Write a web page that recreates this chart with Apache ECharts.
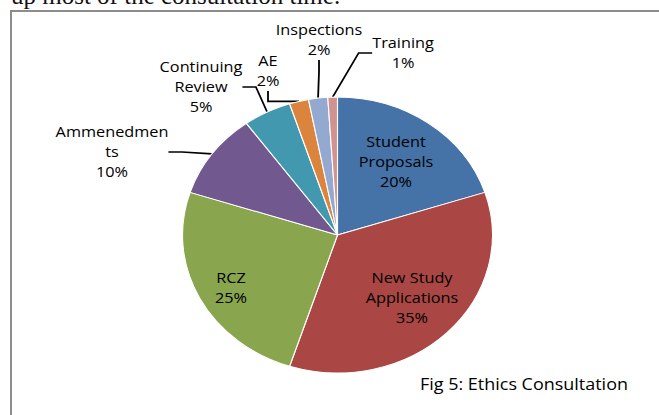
<!DOCTYPE html>
<html lang="en">
<head>
    <meta charset="UTF-8"/>
    <title>Fig 5: Ethics Consultation</title>
    <script src="https://cdn.jsdelivr.net/npm/echarts@6/dist/echarts.min.js"></script>
    <style>
        html, body { margin: 0; padding: 0; background: #fff; overflow: hidden; }
        body { width: 659px; height: 415px; position: relative; }
        /* line of document text cut off above the figure */
        .doc-text {
            position: absolute; left: 11px; top: -17px;
            font-family: 'Liberation Serif', serif; font-size: 25px; line-height: 25px;
            color: #111; white-space: nowrap;
        }
        .frame {
            position: absolute; left: 10px; top: 10px; right: -10px; bottom: -10px;
            border-top: 2px solid #8c8c8c; border-left: 2px solid #8c8c8c;
        }
        /* the picture in the document is stretched sideways, so the chart is too */
        #chart {
            position: absolute; left: 0; top: 0;
            width: 587px; height: 415px;
            transform: scaleX(1.123); transform-origin: 0 0;
        }
    </style>
</head>
<body>
    <div class="doc-text">up most of the consultation time.</div>
    <div class="frame"></div>
    <div id="chart"></div>

    <script>
        const STRETCH = 1.123;

        const categories = ['Student Proposals', 'New Study Applications', 'RCZ', 'Ammenedments',
            'Continuing Review', 'AE', 'Inspections', 'Training'];
        const shares = [20, 35, 25, 10, 5, 2, 2, 1];
        // how the names wrap inside the labels
        const labelText = ['Student\nProposals', 'New Study\nApplications', 'RCZ', 'Ammenedmen\nts',
            'Continuing\nReview', 'AE', 'Inspections', 'Training'];
        const insideLabel = [true, true, true, false, false, false, false, false];
        const colors = ['#4572A7', '#AA4643', '#89A54E', '#71588F', '#4198AF', '#DB843D', '#93A9CF', '#D19392'];

        // label centres as they sit in the picture (page pixels)
        const labelCenters = [[396, 162], [412, 298], [231, 288], [112, 152], [201, 87], [268, 71], [319, 40], [403, 53]];

        const chart = echarts.init(document.getElementById('chart'), null, { renderer: 'svg' });

        chart.setOption({
            animation: false,
            title: {
                text: 'Fig 5: Ethics Consultation',
                left: 420 / STRETCH, top: 374, padding: 0,
                textStyle: { fontFamily: 'Open Sans', fontSize: 16, fontWeight: 'normal', color: '#000', lineHeight: 20 }
            },
            series: [{
                type: 'pie',
                center: [337.5 / STRETCH, 235],
                radius: 138,
                startAngle: 90,
                clockwise: true,
                avoidLabelOverlap: false,
                itemStyle: { borderColor: '#fff', borderWidth: 1 },
                label: {
                    show: true,
                    position: 'outside',
                    fontFamily: 'Open Sans',
                    fontSize: 14.5,
                    lineHeight: 20,
                    color: '#000',
                    align: 'center',
                    formatter: p => labelText[p.dataIndex] + '\n' + Math.round(p.percent) + '%'
                },
                labelLine: {
                    show: true, length: 10, length2: 12,
                    lineStyle: { color: '#000', width: 1.6 }
                },
                labelLayout: p => ({
                    x: labelCenters[p.dataIndex][0] / STRETCH,
                    y: labelCenters[p.dataIndex][1],
                    align: 'center',
                    verticalAlign: 'middle'
                }),
                emphasis: { disabled: true },
                data: categories.map((name, i) => ({
                    name: name,
                    value: shares[i],
                    itemStyle: { color: colors[i] },
                    label: insideLabel[i] ? { position: 'inside' } : {},
                    labelLine: insideLabel[i] ? { show: false } : {}
                }))
            }]
        });
    </script>
</body>
</html>
